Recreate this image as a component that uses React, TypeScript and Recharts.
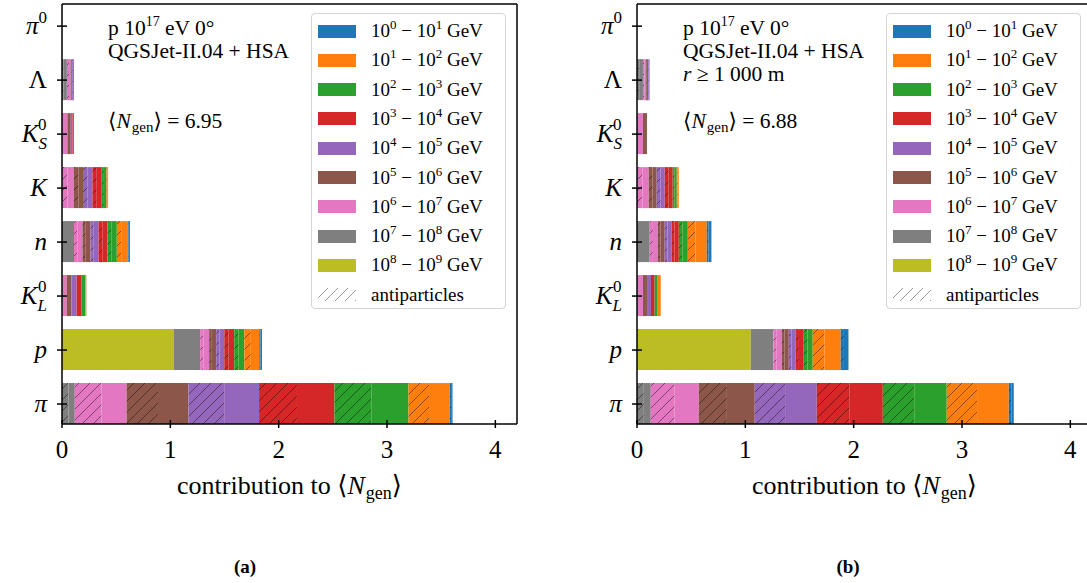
import React from "react";
import { BarChart, Bar, XAxis, YAxis, ReferenceLine } from "recharts";

const SERIF = "'Liberation Serif', 'Times New Roman', 'DejaVu Serif', serif";

// energy bins, low to high: 10^e – 10^(e+1) GeV
const binLow = [0, 1, 2, 3, 4, 5, 6, 7, 8];
const binColors = ["#1f77b4", "#ff7f0e", "#2ca02c", "#d62728", "#9467bd", "#8c564b", "#e377c2", "#7f7f7f", "#bcbd22"];

// particle types, bottom to top
const particles = ["pi", "p", "KL", "n", "K", "KS", "Lambda", "pi0"];
const xTicks = [0, 1, 2, 3, 4];
const yTicks = [0, 1, 2, 3, 4, 5, 6, 7];
const noAnti = [0, 0, 0, 0, 0, 0, 0, 0, 0];

// (a) totals per energy bin and the antiparticle part of each
const aPi = [0.025, 0.382, 0.683, 0.696, 0.652, 0.571, 0.478, 0.118, 0];
const aPiAnti = [0.012, 0.19, 0.34, 0.35, 0.33, 0.29, 0.247, 0.06, 0];
const aP = [0.025, 0.138, 0.093, 0.092, 0.075, 0.065, 0.083, 0.241, 1.034];
const aPAnti = [0.01, 0.06, 0.04, 0.04, 0.03, 0.025, 0.03, 0, 0];
const aKL = [0.001, 0.009, 0.034, 0.046, 0.049, 0.043, 0.038, 0.005, 0];
const aN = [0.019, 0.102, 0.086, 0.083, 0.074, 0.074, 0.078, 0.111, 0];
const aNAnti = [0.007, 0.04, 0.035, 0.035, 0.03, 0.03, 0.03, 0, 0];
const aK = [0, 0.015, 0.044, 0.086, 0.087, 0.086, 0.108, 0, 0];
const aKAnti = [0, 0.007, 0.02, 0.04, 0.043, 0.043, 0.05, 0, 0];
const aKS = [0, 0, 0, 0.012, 0.016, 0.031, 0.05, 0, 0];
const aLambda = [0, 0, 0, 0, 0.018, 0.012, 0.035, 0.045, 0];
const aLambdaAnti = [0, 0, 0, 0, 0.008, 0.005, 0.02, 0.015, 0];
const aPi0 = [0, 0, 0, 0, 0, 0, 0, 0, 0];

// (b) r >= 1000 m
const bPi = [0.046, 0.573, 0.59, 0.61, 0.572, 0.517, 0.443, 0.127, 0];
const bPiAnti = [0.023, 0.28, 0.29, 0.3, 0.28, 0.26, 0.22, 0.063, 0];
const bP = [0.072, 0.258, 0.083, 0.074, 0.064, 0.065, 0.077, 0.209, 1.05];
const bPAnti = [0.03, 0.11, 0.035, 0.03, 0.025, 0.025, 0.03, 0, 0];
const bKL = [0, 0.028, 0.028, 0.034, 0.037, 0.037, 0.055, 0, 0];
const bN = [0.043, 0.175, 0.083, 0.065, 0.065, 0.065, 0.074, 0.117, 0];
const bNAnti = [0.017, 0.07, 0.035, 0.025, 0.025, 0.025, 0.03, 0, 0];
const bK = [0, 0.018, 0.037, 0.074, 0.074, 0.074, 0.108, 0, 0];
const bKAnti = [0, 0.009, 0.018, 0.036, 0.036, 0.036, 0.05, 0, 0];
const bKS = [0, 0, 0, 0, 0, 0.037, 0.055, 0, 0];
const bLambda = [0, 0, 0, 0, 0.015, 0.021, 0.025, 0.055, 0];
const bLambdaAnti = [0, 0, 0, 0, 0.007, 0.01, 0.012, 0.02, 0];
const bPi0 = [0, 0, 0, 0, 0, 0, 0, 0, 0];

function buildRows(totals: number[][], antis: number[][]) {
  return particles.map((name, j) => {
    const row: Record<string, any> = { pos: j, name };
    binLow.forEach((_, i) => {
      row["a" + i] = antis[j][i];
      row["p" + i] = +(totals[j][i] - antis[j][i]).toFixed(4);
    });
    return row;
  });
}

const rowsA = buildRows(
  [aPi, aP, aKL, aN, aK, aKS, aLambda, aPi0],
  [aPiAnti, aPAnti, noAnti, aNAnti, aKAnti, noAnti, aLambdaAnti, noAnti]
);
const rowsB = buildRows(
  [bPi, bP, bKL, bN, bK, bKS, bLambda, bPi0],
  [bPiAnti, bPAnti, noAnti, bNAnti, bKAnti, noAnti, bLambdaAnti, noAnti]
);

// stacking order: highest energy first, antiparticles before particles
const stackKeys: { key: string; fill: string }[] = [];
[...binLow].reverse().forEach((i) => {
  stackKeys.push({ key: "a" + i, fill: `url(#hatch${i})` });
  stackKeys.push({ key: "p" + i, fill: binColors[i] });
});

function yLabel(name: string) {
  switch (name) {
    case "pi0":
      return [<tspan key="m" fontStyle="italic">π</tspan>, <tspan key="s" fontSize={17} dy={-11}>0</tspan>];
    case "Lambda":
      return "Λ";
    case "KS":
    case "KL":
      return [
        <tspan key="m" fontStyle="italic">K</tspan>,
        <tspan key="b" fontSize={17} dy={7} fontStyle="italic">{name === "KS" ? "S" : "L"}</tspan>,
        <tspan key="t" fontSize={17} dx={-9} dy={-19}>0</tspan>,
      ];
    case "K":
      return <tspan fontStyle="italic">K</tspan>;
    case "n":
      return <tspan fontStyle="italic">n</tspan>;
    case "p":
      return <tspan fontStyle="italic">p</tspan>;
    default:
      return <tspan fontStyle="italic">π</tspan>;
  }
}

const XTick = (props: any) => {
  const { x, y, payload } = props;
  return (
    <g>
      <line x1={x} x2={x} y1={y - 4} y2={y + 4} stroke="#000" strokeWidth={1.5} />
      <text x={x} y={y + 34} textAnchor="middle" fontSize={25} fontFamily={SERIF} fill="#000">
        {payload.value}
      </text>
    </g>
  );
};

const YTick = (props: any) => {
  const { x, y, payload } = props;
  return (
    <g>
      <line x1={x - 5} x2={x + 5} y1={y} y2={y} stroke="#000" strokeWidth={1.5} />
      <text x={x - 15} y={y + 8} textAnchor="end" fontSize={25} fontFamily={SERIF} fill="#000">
        {yLabel(particles[payload.value])}
      </text>
    </g>
  );
};

const sup = (t: string, size = 13, top = -8) => (
  <span style={{ fontSize: size, position: "relative", top }}>{t}</span>
);

function LegendBox() {
  return (
    <div
      style={{
        position: "absolute",
        left: 311,
        top: 13,
        width: 193,
        height: 294,
        border: "1.5px solid #d4d4d4",
        borderRadius: 4,
        background: "rgba(255,255,255,0.85)",
        fontFamily: SERIF,
        fontSize: 19,
        color: "#000",
      }}
    >
      {binLow.map((e, i) => (
        <div key={e} style={{ position: "absolute", left: 6, top: 10.5 + i * 29.3, height: 13, display: "flex", alignItems: "center" }}>
          <div style={{ width: 38, height: 13, background: binColors[i] }} />
          <span style={{ marginLeft: 15, whiteSpace: "nowrap" }}>
            10{sup(String(e))} − 10{sup(String(e + 1))} GeV
          </span>
        </div>
      ))}
      <div style={{ position: "absolute", left: 6, top: 10.5 + 9 * 29.3, height: 13, display: "flex", alignItems: "center" }}>
        <svg width={38} height={13}>
          <rect width={38} height={13} fill="url(#hatchLegend)" />
        </svg>
        <span style={{ marginLeft: 15, whiteSpace: "nowrap" }}>antiparticles</span>
      </div>
    </div>
  );
}

function Panel(props: { rows: any[]; left: number; withRadius: boolean; ngen: string }) {
  const { rows, left, withRadius, ngen } = props;
  const lineStyle: React.CSSProperties = { position: "absolute", left: 108, whiteSpace: "nowrap", fontFamily: SERIF, fontSize: 21.5, lineHeight: "23px", color: "#000" };
  return (
    <div style={{ position: "absolute", left, top: 0, width: 540, height: 583 }}>
      <BarChart
        width={540}
        height={470}
        data={rows}
        layout="vertical"
        margin={{ top: 4, right: 23, bottom: 16, left: 61 }}
      >
        <XAxis
          type="number"
          domain={[0, 4.2]}
          ticks={xTicks}
          allowDataOverflow
          height={30}
          tickSize={0}
          tickMargin={0}
          tickLine={false}
          axisLine={{ stroke: "#000", strokeWidth: 1.5 }}
          tick={(p: any) => <XTick {...p} />}
        />
        <YAxis
          type="number"
          dataKey="pos"
          domain={[-0.37, 7.41]}
          ticks={yTicks}
          interval={0}
          reversed
          allowDataOverflow
          width={1}
          tickSize={0}
          tickMargin={0}
          tickLine={false}
          axisLine={{ stroke: "#000", strokeWidth: 1.5 }}
          tick={(p: any) => <YTick {...p} />}
        />
        {stackKeys.map((s) => (
          <Bar key={s.key} dataKey={s.key} stackId="s" fill={s.fill} barSize={41} isAnimationActive={false} />
        ))}
        <ReferenceLine y={7.41} stroke="#000" strokeWidth={1.5} />
        <ReferenceLine x={4.2} stroke="#000" strokeWidth={1.5} />
      </BarChart>
      <div style={{ ...lineStyle, top: 17 }}>
        p 10{sup("17", 14, -9)} eV 0°
      </div>
      <div style={{ ...lineStyle, top: 40 }}>QGSJet-II.04 + HSA</div>
      {withRadius && (
        <div style={{ ...lineStyle, top: 63 }}>
          <i>r</i> ≥ 1 000 m
        </div>
      )}
      <div style={{ ...lineStyle, top: 110 }}>
        ⟨<i>N</i>
        <span style={{ fontSize: 15, position: "relative", top: 4, marginLeft: 1 }}>gen</span>⟩ ={" "}
        {ngen}
      </div>
      <LegendBox />
      <div
        style={{
          position: "absolute",
          left: 62,
          width: 455,
          top: 471,
          textAlign: "center",
          fontFamily: SERIF,
          fontSize: 26,
          lineHeight: "30px",
          color: "#000",
          whiteSpace: "nowrap",
        }}
      >
        contribution to ⟨<i>N</i>
        <span style={{ fontSize: 18, position: "relative", top: 5, marginLeft: 1 }}>gen</span>⟩
      </div>
    </div>
  );
}

export default function App() {
  const captionStyle: React.CSSProperties = {
    position: "absolute",
    top: 556,
    width: 60,
    textAlign: "center",
    fontFamily: SERIF,
    fontWeight: "bold",
    fontSize: 19,
    lineHeight: "22px",
    color: "#000",
  };
  return (
    <div style={{ position: "absolute", left: 0, top: 0, width: 1087, height: 583, overflow: "hidden", background: "#fff" }}>
      <svg width={0} height={0} style={{ position: "absolute" }}>
        <defs>
          {binColors.map((c, i) => (
            <pattern key={i} id={`hatch${i}`} patternUnits="userSpaceOnUse" width={11} height={11}>
              <rect width={11} height={11} fill={c} />
              <path d="M-1,1 l2,-2 M0,11 l11,-11 M10,12 l2,-2" stroke="rgba(0,0,0,0.55)" strokeWidth={0.8} />
            </pattern>
          ))}
          <pattern id="hatchLegend" patternUnits="userSpaceOnUse" width={10} height={10}>
            <rect width={10} height={10} fill="#fff" />
            <path d="M-1,1 l2,-2 M0,10 l10,-10 M9,11 l2,-2" stroke="rgba(0,0,0,0.5)" strokeWidth={0.8} />
          </pattern>
        </defs>
      </svg>
      <Panel rows={rowsA} left={0} withRadius={false} ngen="6.95" />
      <Panel rows={rowsB} left={575} withRadius={true} ngen="6.88" />
      <div style={{ ...captionStyle, left: 215 }}>(a)</div>
      <div style={{ ...captionStyle, left: 818 }}>(b)</div>
    </div>
  );
}
